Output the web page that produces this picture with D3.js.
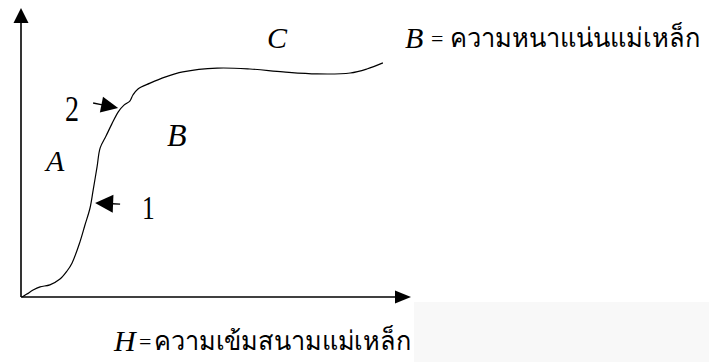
<!DOCTYPE html>
<html>
<head>
<meta charset="utf-8">
<script src="https://cdn.jsdelivr.net/npm/d3@7/dist/d3.min.js"></script>
<style>
  html, body { margin: 0; padding: 0; background: #ffffff; }
  svg { display: block; }
</style>
</head>
<body>
<svg id="chart" width="709" height="362"></svg>
<script>
// ---- data (arbitrary units 0..100) ----
const H = [0.3, 1.5, 3.1, 4.9, 7.4, 10.0, 11.8, 13.1, 15.1, 16.4, 17.7, 18.5, 19.5, 20.3, 21.8, 23.3, 24.9, 26.4, 27.9, 28.7, 30.0, 33.1, 36.9, 41.5, 50.3, 58.7, 67.2, 75.9, 84.4, 88.7, 92.8];
const B = [0.0, 1.0, 2.4, 3.5, 4.2, 6.2, 9.0, 11.8, 19.0, 24.9, 30.8, 37.0, 45.0, 51.6, 55.7, 59.9, 64.0, 66.4, 67.8, 69.9, 72.0, 74.0, 76.1, 77.9, 79.2, 78.9, 77.9, 77.2, 77.5, 78.9, 81.0];

// annotation arrows: point on the curve they indicate
const markerLabels = ["1", "2"];
const markerH = [19.0, 24.9];
const markerB = [32.5, 65.4];

const regionLabels = ["A", "B", "C"];
const yAxisTitle = ["B", "ความหนาแน่นแม่เหล็ก"];
const xAxisTitle = ["H", "ความเข้มสนามแม่เหล็ก"];

// ---- drawing ----
const svg = d3.select("#chart");
const x = d3.scaleLinear().domain([0, 100]).range([21, 411]);
const y = d3.scaleLinear().domain([0, 100]).range([297, 8]);

// faint grey band (scan background)
svg.append("rect").attr("x", 414).attr("y", 302).attr("width", 295).attr("height", 60).attr("fill", "#f8f8f8");

function arrow(x0, y0, x1, y1, len, half, width) {
  const dx = x1 - x0, dy = y1 - y0, L = Math.hypot(dx, dy);
  const ux = dx / L, uy = dy / L;
  const bx = x1 - ux * len, by = y1 - uy * len;
  svg.append("line").attr("x1", x0).attr("y1", y0).attr("x2", bx + ux * 1).attr("y2", by + uy * 1)
    .attr("stroke", "#000").attr("stroke-width", width);
  svg.append("path")
    .attr("d", `M${x1},${y1}L${bx - uy * half},${by + ux * half}L${bx + uy * half},${by - ux * half}Z`)
    .attr("fill", "#000");
}

// axes with arrowheads
arrow(x(0), y(0), x(0), y(100), 15, 7.5, 1.6);
arrow(x(0), y(0), x(100), y(0), 16, 6.5, 1.3);

// magnetisation curve
const pts = H.map((h, i) => [h, B[i]]);
svg.append("path")
  .datum(pts)
  .attr("fill", "none")
  .attr("stroke", "#000")
  .attr("stroke-width", 1.2)
  .attr("d", d3.line().x(d => x(d[0])).y(d => y(d[1])).curve(d3.curveCatmullRom.alpha(0.5)));

// marker arrows
// 1: from right, pointing left
arrow(x(markerH[0]) + 25, y(markerB[0]) + 1, x(markerH[0]), y(markerB[0]), 18, 9, 1.3);
// 2: from left, pointing right/down
arrow(x(markerH[1]) - 25, y(markerB[1]) - 5, x(markerH[1]), y(markerB[1]), 17, 8, 1.3);

const serif = "'Liberation Serif', 'Times New Roman', serif";
function glyph(t, px, py, size, sx, italic) {
  svg.append("text")
    .attr("transform", `translate(${px},${py}) scale(${sx},1)`)
    .attr("font-family", serif)
    .attr("font-size", size)
    .attr("font-style", italic ? "italic" : "normal")
    .attr("fill", "#000")
    .text(t);
}
function thai(t, px, py, len) {
  svg.append("text")
    .attr("transform", `translate(${px},${py}) scale(1,1.12)`)
    .attr("font-family", "'Noto Sans', 'DejaVu Sans', sans-serif")
    .attr("font-size", 24)
    .attr("textLength", len).attr("lengthAdjust", "spacingAndGlyphs")
    .attr("fill", "#000")
    .text(t);
}
// marker numbers
glyph(markerLabels[0], 142, 219, 34, 0.75, false);
glyph(markerLabels[1], 65, 121, 35, 0.8, false);
// region letters
glyph(regionLabels[0], 46, 171, 30, 1, true);
glyph(regionLabels[1], 167, 146, 32, 1, true);
glyph(regionLabels[2], 267, 48, 30, 1, true);

// axis titles
glyph(yAxisTitle[0], 405, 48, 30, 1, true);
glyph("=", 431, 46, 22, 1, false);
thai(yAxisTitle[1], 450, 47, 250);

glyph(xAxisTitle[0], 114, 351, 30, 1, true);
glyph("=", 139, 349, 22, 1, false);
thai(xAxisTitle[1], 154, 350, 257);
</script>
</body>
</html>
